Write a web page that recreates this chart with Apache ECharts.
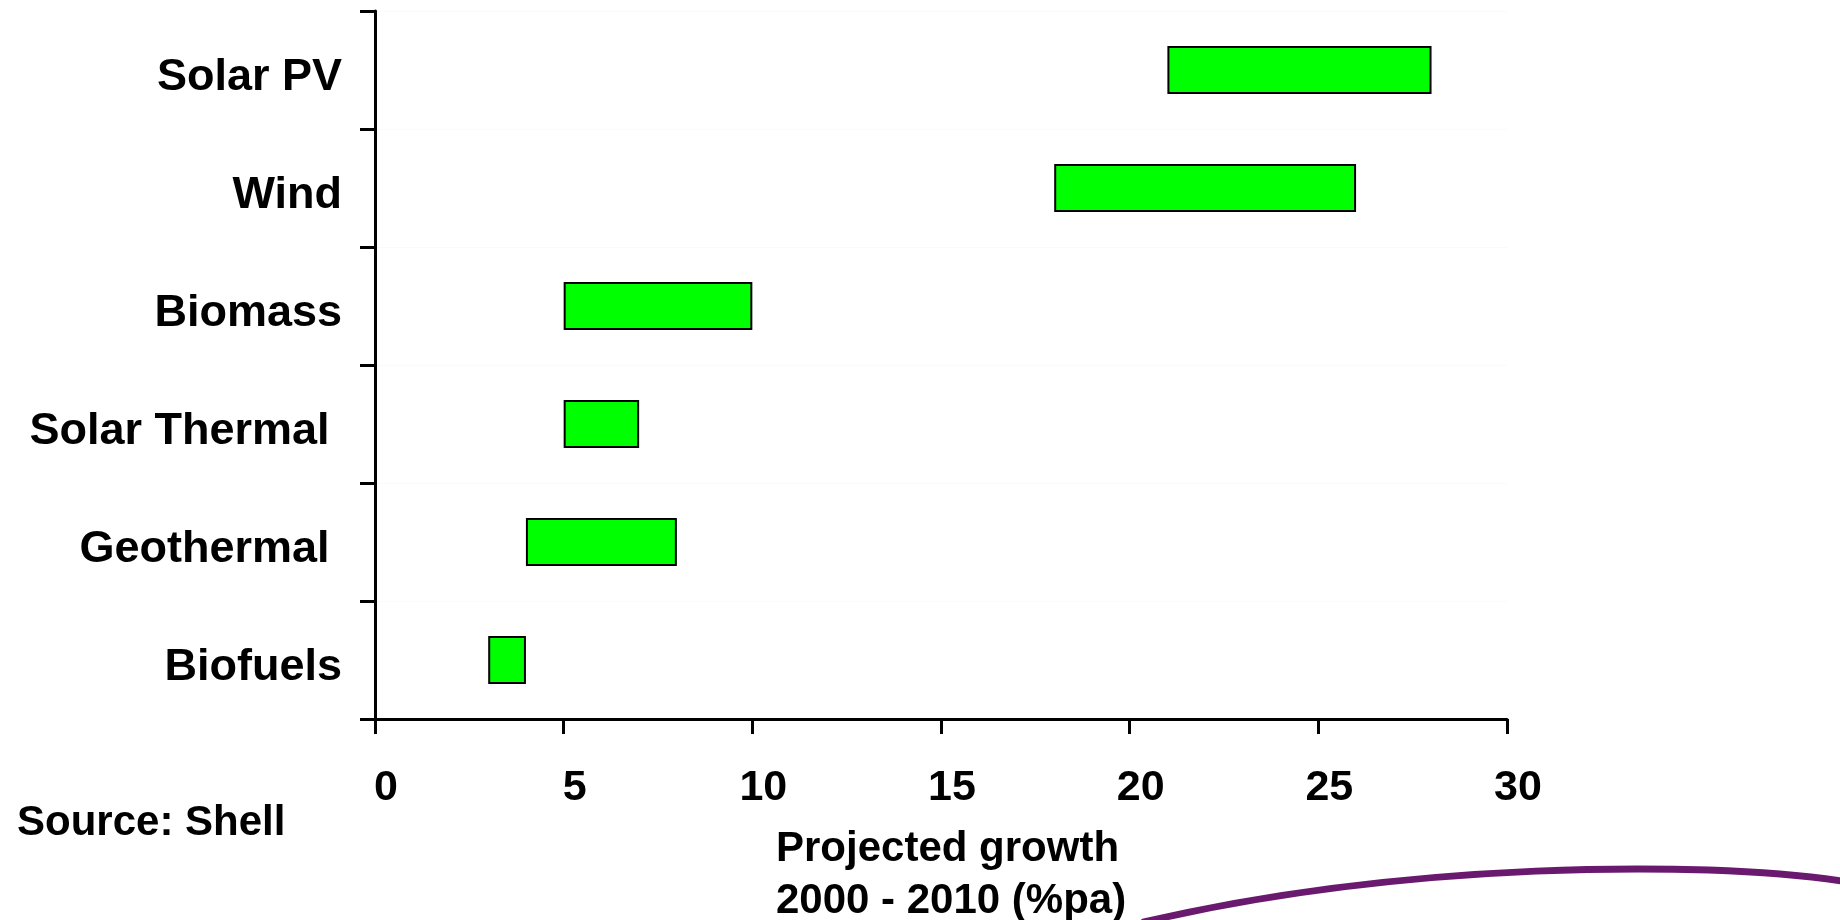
<!DOCTYPE html>
<html>
<head>
<meta charset="utf-8">
<script src="https://cdn.jsdelivr.net/npm/echarts@6/dist/echarts.min.js"></script>
<style>
html,body{margin:0;padding:0;background:#fff;}
#chart{width:1840px;height:920px;}
</style>
</head>
<body>
<div id="chart"></div>
<script>
const categories = ['Solar PV', 'Wind', 'Biomass', 'Solar Thermal ', 'Geothermal ', 'Biofuels'];
const lowValues = [21, 18, 5, 5, 4, 3];
const highValues = [28, 26, 10, 7, 8, 4];
const xTicks = [0, 5, 10, 15, 20, 25, 30];
const axisTitle = 'Projected growth\n2000 - 2010 (%pa)';
const sourceText = 'Source: Shell';

const FONT = '"Liberation Sans", Arial, sans-serif';
const chart = echarts.init(document.getElementById('chart'), null, {renderer: 'canvas'});
const rangeValues = highValues.map((h, i) => h - lowValues[i]);

chart.setOption({
  animation: false,
  backgroundColor: '#ffffff',
  title: [
    {
      text: axisTitle,
      left: 771, top: 818,
      textStyle: {fontFamily: FONT, fontSize: 42, fontWeight: 'bold', color: '#000', lineHeight: 52}
    },
    {
      text: sourceText,
      left: 12, top: 797,
      textStyle: {fontFamily: FONT, fontSize: 42, fontWeight: 'bold', color: '#000', lineHeight: 42}
    }
  ],
  grid: {left: 375, right: 333, top: 11, bottom: 201, containLabel: false},
  xAxis: {
    type: 'value',
    min: xTicks[0], max: xTicks[xTicks.length - 1], interval: 5,
    axisLine: {show: true, lineStyle: {color: '#000', width: 3}},
    axisTick: {show: true, length: 15, lineStyle: {color: '#000', width: 3}},
    axisLabel: {
      fontFamily: FONT, fontSize: 43, fontWeight: 'bold', color: '#000',
      margin: 48, padding: [0, 0, 0, 22]
    },
    splitLine: {show: false}
  },
  yAxis: {
    type: 'category',
    data: categories,
    inverse: true,
    axisLine: {show: true, lineStyle: {color: '#000', width: 3}},
    axisTick: {show: true, length: 15, lineStyle: {color: '#000', width: 3}},
    axisLabel: {
      margin: 33,
      formatter: function (v) { return '{a|' + v + '}'; },
      rich: {
        a: {fontFamily: FONT, fontSize: 45, fontWeight: 'bold', color: '#000', padding: [16, 0, 0, 0]}
      }
    },
    splitLine: {show: true, lineStyle: {color: '#fbfbee', width: 1}}
  },
  series: [
    {
      type: 'bar', stack: 'range', data: lowValues,
      itemStyle: {color: 'rgba(0,0,0,0)'}, barWidth: 48, silent: true
    },
    {
      type: 'bar', stack: 'range', data: rangeValues,
      itemStyle: {color: '#00ff00', borderColor: '#000', borderWidth: 2},
      barWidth: 48
    }
  ],
  graphic: [
    {
      type: 'bezierCurve',
      shape: {x1: 1144, y1: 922, cpx1: 1400, cpy1: 862, cpx2: 1700, cpy2: 860, x2: 1842, y2: 881},
      style: {stroke: '#6a1a6e', lineWidth: 7, fill: null, lineCap: 'round'},
      z: 10
    }
  ]
});
</script>
</body>
</html>
